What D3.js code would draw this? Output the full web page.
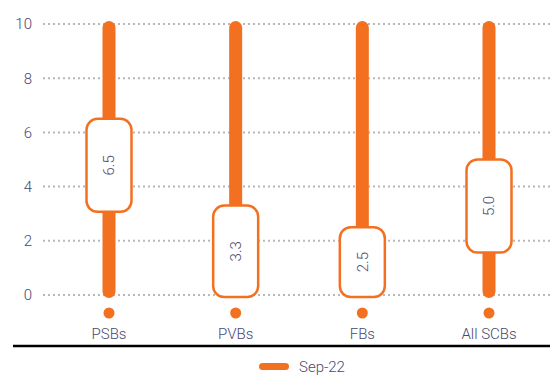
<!DOCTYPE html>
<html>
<head>
<meta charset="utf-8">
<script src="https://cdn.jsdelivr.net/npm/d3@7/dist/d3.min.js"></script>
<style>
html,body{margin:0;padding:0;background:#fff;}
svg{display:block;font-family:Roboto, "Noto Sans", sans-serif;font-weight:300;}
</style>
</head>
<body>
<svg id="chart" width="550" height="376"></svg>
<script>
const categories = ["PSBs", "PVBs", "FBs", "All SCBs"];
const values = [6.5, 3.3, 2.5, 5.0];
const labels = ["6.5", "3.3", "2.5", "5.0"];
const yTicks = [0, 2, 4, 6, 8, 10];
const seriesName = "Sep-22";
const rangeMax = 10;

const orange = "#F37021";
const textColor = "#4A4870";
const svg = d3.select("#chart");

const y = d3.scaleLinear().domain([0, 10]).range([295, 24]);
const x = d3.scalePoint().domain(categories).range([109, 489]);

// gridlines
svg.append("g").selectAll("line").data(yTicks).join("line")
  .attr("x1", 43).attr("x2", 550)
  .attr("y1", d => y(d)).attr("y2", d => y(d))
  .attr("stroke", "#b8b8b8").attr("stroke-width", 2)
  .attr("stroke-dasharray", "2,3");

// y axis labels
const yAxis = d3.axisLeft(y).tickValues(yTicks).tickSize(0).tickPadding(0);
const ga = svg.append("g").attr("transform", "translate(32,0)").call(yAxis);
ga.select(".domain").remove();
ga.selectAll("text").attr("fill", textColor).style("font-size", "15px")
  .style("font-family", "Roboto, sans-serif").style("font-weight", "300");

// bars (range 0..10)
svg.append("g").selectAll("rect").data(categories).join("rect")
  .attr("x", d => x(d) - 6.5).attr("width", 13)
  .attr("y", y(rangeMax) - 3).attr("height", y(0) - y(rangeMax) + 6)
  .attr("rx", 6.5).attr("fill", orange);

// dots
svg.append("g").selectAll("circle").data(categories).join("circle")
  .attr("cx", d => x(d)).attr("cy", 313).attr("r", 5.5).attr("fill", orange);

// label boxes
const data = categories.map((c, i) => ({c, v: values[i], l: labels[i]}));
const boxH = 93, boxW = 45;
const gb = svg.append("g").selectAll("g").data(data).join("g");
gb.each(function(d) {
  const top = y(d.v);
  const bottom = Math.min(top + boxH, y(0) + 2);
  d.top = top; d.bottom = bottom;
});
gb.append("rect")
  .attr("x", d => x(d.c) - boxW / 2).attr("width", boxW)
  .attr("y", d => d.top).attr("height", d => d.bottom - d.top)
  .attr("rx", 11).attr("fill", "#fff").attr("stroke", orange).attr("stroke-width", 2.5);
gb.append("text")
  .attr("transform", d => `translate(${x(d.c)},${(d.top + d.bottom) / 2}) rotate(-90)`)
  .attr("text-anchor", "middle").attr("dy", "0.35em")
  .attr("fill", textColor).style("font-size", "15px")
  .text(d => d.l);

// category labels
svg.append("g").selectAll("text").data(categories).join("text")
  .attr("x", d => x(d)).attr("y", 339)
  .attr("text-anchor", "middle").attr("fill", textColor).style("font-size", "15px")
  .text(d => d);

// bottom axis line
svg.append("line").attr("x1", 13).attr("x2", 550).attr("y1", 346).attr("y2", 346)
  .attr("stroke", "#000").attr("stroke-width", 2.5);

// legend
svg.append("rect").attr("x", 259).attr("y", 363).attr("width", 30).attr("height", 7)
  .attr("rx", 3.5).attr("fill", orange);
svg.append("text").attr("x", 299).attr("y", 372).attr("fill", textColor)
  .style("font-size", "15px").text(seriesName);
</script>
</body>
</html>
